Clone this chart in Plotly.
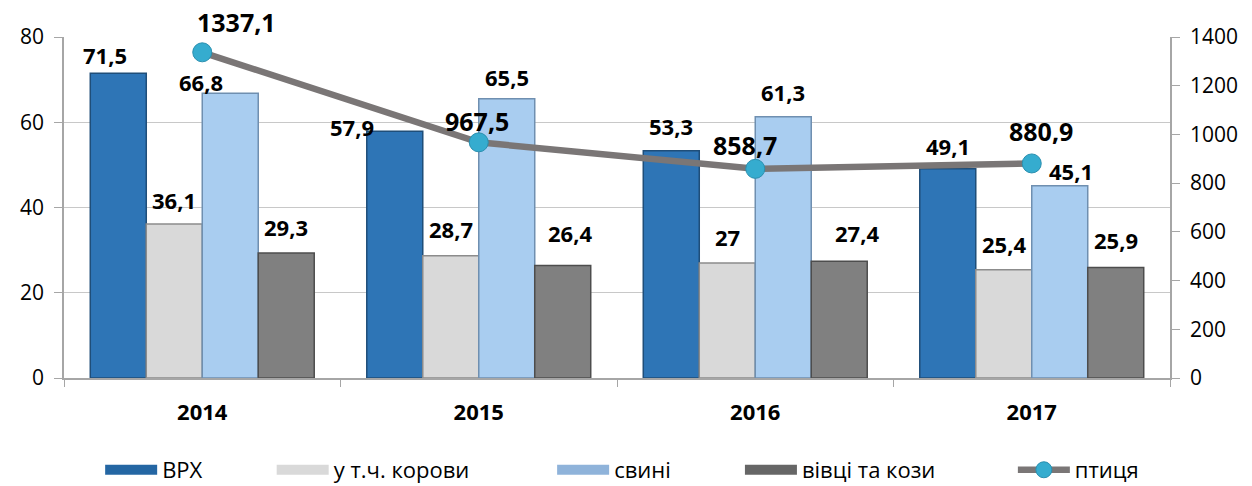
import plotly.graph_objects as go

years = ["2014", "2015", "2016", "2017"]
vrh = [71.5, 57.9, 53.3, 49.1]
korovy = [36.1, 28.7, 27.0, 25.4]
svyni = [66.8, 65.5, 61.3, 45.1]
vivtsi = [29.3, 26.4, 27.4, 25.9]
ptytsia = [1337.1, 967.5, 858.7, 880.9]

names = ["ВРХ", "у т.ч. корови", "свині", "вівці та кози", "птиця"]
fills = ["#2E75B6", "#D9D9D9", "#A9CDF0", "#808080"]
edges = ["#1F4E79", "#8C8C8C", "#6F8FB0", "#4D4D4D"]
legend_swatch = ["#2466A3", "#D9D9D9", "#8FB3DA", "#666666"]

# label placement styling (px): horizontal shift and gap above the bar top
bar_lbl_dx = [[-13, -43, 0, 0], [0, 0, 0, 0], [-29, 0, 0, 11], [0, 7, 18, 0]]
bar_lbl_gap = [[10, -4, 17, 15], [16, 19, 18, 18], [3, 14, 17, 7], [18, 24, 20, 20]]
line_lbl_dx = [34, -2, -10, 9]
line_lbl_dy = [30, 21, 24, 32]
# legend entry left positions (fraction of figure width)
leg_x = [0.080, 0.217, 0.441, 0.591, 0.809]
BARGAP = 0.19


def fmt(v):
    return f"{v:g}".replace(".", ",")


fig = go.Figure()
legend_ids = ["legend", "legend2", "legend3", "legend4", "legend5"]
series = [vrh, korovy, svyni, vivtsi]
nser = len(series)
bw = (1 - BARGAP) / nser
for j, (name, vals, fc, ec) in enumerate(zip(names[:4], series, fills, edges)):
    fig.add_trace(go.Bar(
        x=years, y=vals, name=name, legend=legend_ids[j], legendgroup=name,
        showlegend=False,
        marker=dict(color=fc, line=dict(color=ec, width=1.5)),
    ))
    # legend proxy drawn as a wide rectangle-like swatch
    fig.add_trace(go.Scatter(
        x=[None], y=[None], name=name, legend=legend_ids[j], legendgroup=name,
        mode="lines", line=dict(color=legend_swatch[j], width=20), hoverinfo="skip",
    ))
    for i, v in enumerate(vals):
        fig.add_annotation(
            x=i + (j - (nser - 1) / 2) * bw, y=v, xref="x", yref="y",
            text=fmt(v), showarrow=False, xanchor="center", yanchor="middle",
            xshift=bar_lbl_dx[j][i], yshift=bar_lbl_gap[j][i] + 8,
            font=dict(family="Open Sans", size=22, color="black", weight="bold"))

fig.add_trace(go.Scatter(
    x=years, y=ptytsia, name=names[4], yaxis="y2", legend=legend_ids[4],
    mode="lines+markers",
    line=dict(color="#7A7676", width=6.5),
    marker=dict(color="#35ACCF", size=19, line=dict(color="#2A8FAF", width=1)),
    cliponaxis=False,
))

for idx, (v, dx, dy) in enumerate(zip(ptytsia, line_lbl_dx, line_lbl_dy)):
    fig.add_annotation(x=idx, y=v, xref="x", yref="y2", text=fmt(v), showarrow=False,
                       xshift=dx, yshift=dy, xanchor="center", yanchor="middle",
                       font=dict(family="Open Sans", size=25, color="black", weight="bold"))

legend_cfg = {}
for i, lid in enumerate(legend_ids):
    legend_cfg[lid] = dict(
        orientation="h", x=leg_x[i], xanchor="left", xref="container",
        y=0.033, yanchor="middle", yref="container",
        font=dict(family="Open Sans", size=22, color="black"),
        itemwidth=52, bgcolor="rgba(0,0,0,0)",
    )

fig.update_layout(
    width=1252, height=486,
    margin=dict(l=64, r=82, t=37, b=108, autoexpand=False),
    paper_bgcolor="white", plot_bgcolor="white",
    barmode="group", bargap=BARGAP, bargroupgap=0,
    font=dict(family="Open Sans", size=21, color="black"),
    showlegend=True,
    xaxis=dict(
        type="category", categoryorder="array", categoryarray=years,
        range=[-0.5, len(years) - 0.5],
        showline=True, linecolor="#A6A6A6", linewidth=1.5,
        ticks="outside", tickson="boundaries", ticklen=7, tickcolor="#A6A6A6",
        tickfont=dict(family="Open Sans", size=22, color="black", weight="bold"),
        ticklabelstandoff=14, showgrid=False, automargin=False,
    ),
    yaxis=dict(
        range=[0, 80], dtick=20, showline=True, linecolor="#A6A6A6", linewidth=1.5,
        ticks="outside", ticklen=8, tickcolor="#A6A6A6",
        showgrid=True, gridcolor="#C8C8C8", gridwidth=1.2,
        tickfont=dict(family="Open Sans", size=21, color="black"),
        ticklabelstandoff=6, zeroline=False, automargin=False,
    ),
    yaxis2=dict(
        range=[0, 1400], dtick=200, overlaying="y", side="right",
        showline=True, linecolor="#A6A6A6", linewidth=1.5,
        ticks="outside", ticklen=8, tickcolor="#A6A6A6",
        showgrid=False, zeroline=False,
        tickfont=dict(family="Open Sans", size=21, color="black"),
        ticklabelstandoff=6, automargin=False,
    ),
    **legend_cfg,
)

fig.write_html("out.html")
